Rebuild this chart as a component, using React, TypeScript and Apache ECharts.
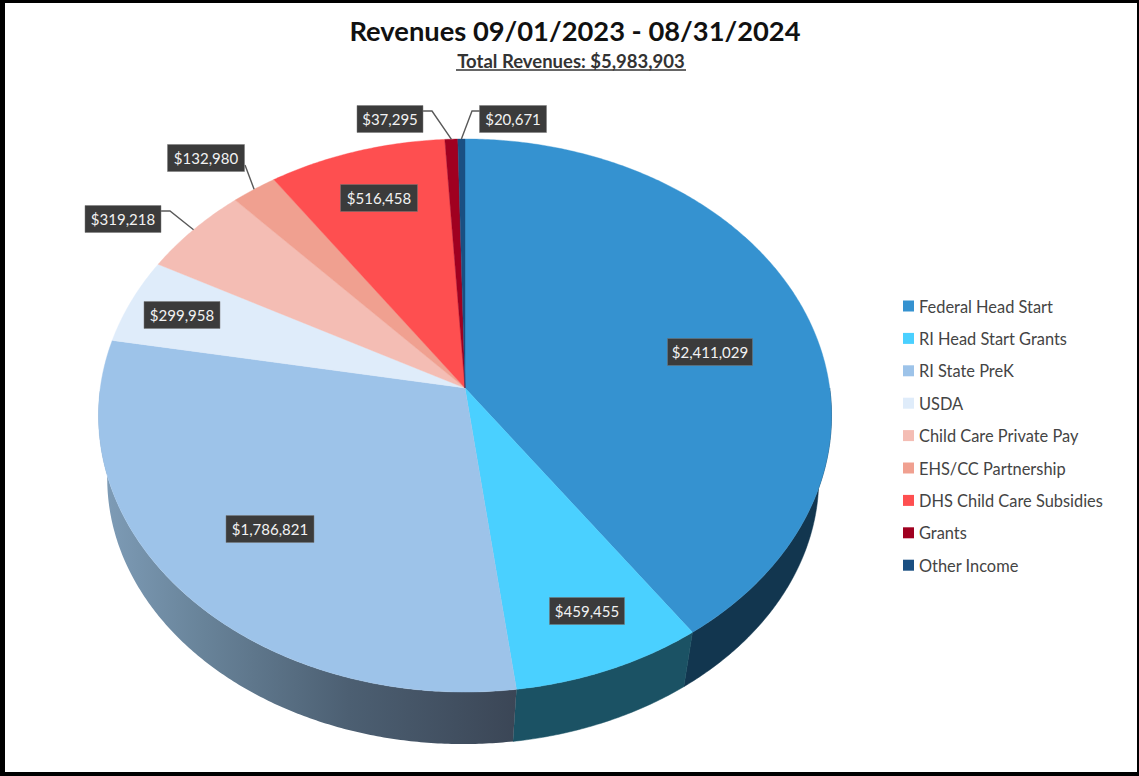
import React, { useEffect, useRef } from "react";
import * as echarts from "echarts";

const CATEGORIES = [
  "Federal Head Start",
  "RI Head Start Grants",
  "RI State PreK",
  "USDA",
  "Child Care Private Pay",
  "EHS/CC Partnership",
  "DHS Child Care Subsidies",
  "Grants",
  "Other Income",
];
const VALUES = [2411029, 459455, 1786821, 299958, 319218, 132980, 516458, 37295, 20671];
const TOP_COLORS = ["#3592d0", "#4ad0ff", "#9dc3e9", "#dfecfa", "#f4bdb4", "#f0a090", "#fe4f50", "#a00020", "#1a4f82"];
const WALL_COLORS: any[] = [
  "#12364f",
  "#1b5264",
  {
    type: "linear", x: 0, y: 0, x2: 1, y2: 0,
    colorStops: [
      { offset: 0, color: "#7f9db8" },
      { offset: 0.25, color: "#688399" },
      { offset: 0.6, color: "#4c5f72" },
      { offset: 1, color: "#3b4656" },
    ],
  },
];
const TITLE = "Revenues 09/01/2023 - 08/31/2024";
const SUBTITLE = "Total Revenues: $5,983,903";

// label layout: box centre x, centre y, box width; optional leader elbow
const LABEL_BOXES: [number, number, number][] = [
  [710, 352, 85], [587, 611, 75], [270, 529, 88], [182, 315, 76], [123, 219, 76],
  [206, 158, 77], [379, 198, 77], [390, 119, 66], [513, 119, 67],
];
const LEADER_START: (number[][] | null)[] = [
  null, null, null, null,
  [[161, 211], [170, 211]],
  [[245, 165]],
  null,
  [[423, 111], [432, 111]],
  [[480, 111], [472, 111]],
];

const FONT = "Lato, 'Noto Sans', sans-serif";
const K = 0.0995;
const TOP = { cx: 465, a: 364.7, b: 273.8, y: 388 };
const BOTTOM = { cx: 463, a: 354, b: 263, y: 452 };
const TOTAL = VALUES.reduce((s, v) => s + v, 0);

type Proj = { cx: number; a: number; b: number; y: number };

function rim(frac: number, p: Proj) {
  const t = frac * Math.PI * 2;
  const u = Math.sin(t);
  const v = -Math.cos(t);
  const w = 1 - K * v;
  return [p.cx + (p.a * u) / w, p.y + (p.b * v) / w];
}

function arc(f0: number, f1: number, p: Proj) {
  const n = Math.max(2, Math.ceil((f1 - f0) * 720));
  const pts: number[][] = [];
  for (let i = 0; i <= n; i++) pts.push(rim(f0 + ((f1 - f0) * i) / n, p));
  return pts;
}

function cumBefore(i: number) {
  let s = 0;
  for (let j = 0; j < i; j++) s += VALUES[j];
  return s / TOTAL;
}

function sliceRender(index: number) {
  return (_params: any, api: any) => {
    const f0 = cumBefore(index);
    const f1 = f0 + api.value(0) / TOTAL;
    const children: any[] = [];
    const w0 = Math.max(f0, 0.25);
    const w1 = Math.min(f1, 0.75);
    if (w1 > w0) {
      const fill = WALL_COLORS[index] || "#333";
      const pts = arc(w0, w1, TOP).concat(arc(w0, w1, BOTTOM).reverse());
      children.push({
        type: "polygon",
        shape: { points: pts },
        style: { fill, stroke: typeof fill === "string" ? fill : "none", lineWidth: 0.5 },
      });
    }
    children.push({
      type: "polygon",
      shape: { points: [[TOP.cx, TOP.y] as number[]].concat(arc(f0, f1, TOP)) },
      style: { fill: TOP_COLORS[index], stroke: TOP_COLORS[index], lineWidth: 0.4 },
    });
    return { type: "group", children };
  };
}

function labelRender(params: any, api: any) {
  const i = params.dataIndex;
  const value = api.value(0);
  const [cx, cy, w] = LABEL_BOXES[i];
  const h = 27;
  const children: any[] = [];
  const start = LEADER_START[i];
  if (start) {
    const mid = cumBefore(i) + value / TOTAL / 2;
    children.push({
      type: "polyline",
      shape: { points: start.concat([rim(mid, TOP)]) },
      style: { fill: "none", stroke: "#595959", lineWidth: 1.4 },
    });
  }
  children.push({
    type: "rect",
    shape: { x: cx - w / 2, y: cy - h / 2, width: w, height: h },
    style: { fill: "#3b3b3b", stroke: "#7a7a7a", lineWidth: 0.5 },
  });
  children.push({
    type: "text",
    style: {
      text: "$" + value.toLocaleString("en-US"),
      x: cx,
      y: cy,
      align: "center",
      verticalAlign: "middle",
      fill: "#f2f2f2",
      font: `15px ${FONT}`,
    },
  });
  return { type: "group", children };
}

export default function App() {
  const ref = useRef<HTMLDivElement>(null);
  useEffect(() => {
    const chart = echarts.init(ref.current!, null, { renderer: "svg" });
    const frame = [
      [0, 0, 1139, 3],
      [0, 0, 5, 776],
      [1137, 0, 2, 776],
      [0, 772, 1139, 4],
    ];
    chart.setOption({
      animation: false,
      backgroundColor: "#ffffff",
      title: [
        {
          text: TITLE,
          left: 570,
          top: 12,
          textAlign: "center",
          textStyle: { fontFamily: FONT, fontSize: 27.3, fontWeight: "bold", color: "#111111" },
        },
        {
          text: SUBTITLE,
          left: 566,
          top: 46,
          textAlign: "center",
          textStyle: { fontFamily: FONT, fontSize: 18.5, fontWeight: "bold", color: "#333333" },
        },
      ],
      legend: {
        data: CATEGORIES,
        orient: "vertical",
        left: 898,
        top: 293,
        itemWidth: 11,
        itemHeight: 11,
        itemGap: 16.4,
        icon: "rect",
        selectedMode: false,
        textStyle: { fontFamily: FONT, fontSize: 16.4, color: "#444444", lineHeight: 16 },
      },
      graphic: {
        elements: [
          ...frame.map(([x, y, width, height]) => ({
            type: "rect",
            shape: { x, y, width, height },
            style: { fill: "#000000" },
          })),
          {
            type: "line",
            shape: { x1: 456, y1: 70, x2: 686, y2: 70 },
            style: { stroke: "#333333", lineWidth: 1.4 },
          },
        ],
      },
      series: [
        ...CATEGORIES.map((name, i) => ({
          type: "custom",
          name,
          coordinateSystem: "none",
          itemStyle: { color: TOP_COLORS[i] },
          data: [[VALUES[i]]],
          renderItem: sliceRender(i),
          silent: true,
          z: 2,
        })),
        {
          type: "custom",
          name: "labels",
          coordinateSystem: "none",
          data: VALUES.map((v) => [v]),
          renderItem: labelRender,
          silent: true,
          z: 5,
        },
      ],
    });
    return () => chart.dispose();
  }, []);
  return <div ref={ref} style={{ position: "absolute", left: 0, top: 0, width: 1139, height: 776 }} />;
}
